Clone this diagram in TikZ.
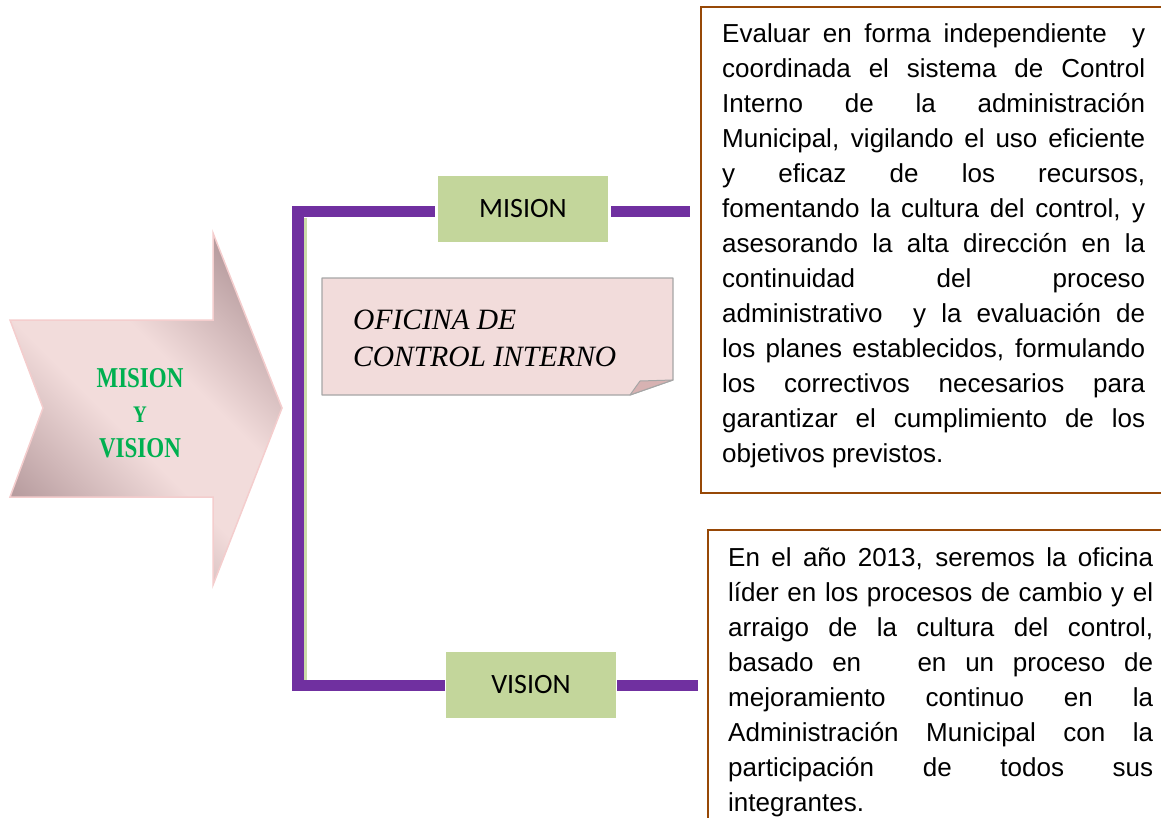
\documentclass[tikz,border=0pt]{standalone}
\usepackage{fontspec}
\usepackage{graphicx}
\setmainfont{Liberation Sans}
\newfontfamily\carl{Carlito}
\newfontfamily\lserif{Liberation Serif}
\definecolor{purp}{HTML}{7030A0}
\definecolor{boxgreen}{HTML}{C3D69B}
\definecolor{brownb}{HTML}{974806}
\definecolor{notefill}{HTML}{F2DCDB}
\definecolor{notefold}{HTML}{D7B2B2}
\definecolor{noteedge}{HTML}{A6A6A6}
\definecolor{adark}{HTML}{AE9295}
\definecolor{alight}{HTML}{F2DCDB}
\definecolor{aedge}{HTML}{F4CDCD}
\definecolor{titlegreen}{HTML}{00B050}
\definecolor{shadowgreen}{HTML}{CADBA8}
\pgfdeclarehorizontalshading{arrowsh}{100bp}{color(0bp)=(adark); color(22bp)=(adark); color(45bp)=(alight); color(58bp)=(alight); color(80bp)=(adark); color(100bp)=(adark)}
\tikzset{
  pline/.style={draw=purp, line width=11.5pt, line join=miter},
  greenbox/.style={fill=boxgreen, minimum width=170pt, minimum height=66pt, inner sep=0, font=\fontsize{28}{30}\carl\selectfont},
  frame/.style={draw=brownb, line width=2pt, anchor=north west, inner sep=0},
  desc/.style={anchor=base west, inner sep=0, align=justify, font=\fontsize{26}{35}\selectfont},
}
\begin{document}
\begin{tikzpicture}[x=1pt,y=-1pt]
\useasboundingbox (0,0) rectangle (1161,818);
% big arrow
\path[shading=arrowsh, shading angle=45, draw=aedge, line width=1.5pt]
  (10,320) -- (213,320) -- (213,233) -- (282,408) -- (213,585) -- (213,497) -- (10,497) -- (43,408) -- cycle;
\node (mv) [align=center, text=titlegreen, inner sep=0, font=\fontsize{23}{35}\lserif\bfseries\selectfont] at (140,413)
  {\scalebox{1}[1.25]{MISION}\\\scalebox{1}[1.25]{\fontsize{19}{35}\selectfont Y}\\\scalebox{1}[1.25]{VISION}};
% note
\path[fill=notefill, draw=noteedge, line width=1.2pt, line join=round]
  (322,278) -- (673,278) -- (673,380) -- (630,395) -- (322,395) -- cycle;
\path[fill=notefold, draw=noteedge, line width=1pt, line join=round]
  (630,395) -- (640,381) -- (673,380) -- cycle;
\node (oficina) [anchor=base west, align=left, inner sep=0, font=\fontsize{29.5}{37}\lserif\itshape\selectfont] at (353,366)
  {OFICINA DE\\CONTROL INTERNO};
% green boxes
\node (mision) [greenbox] at (523,209) {MISION};
\node (vision) [greenbox] at (531,685) {VISION};
% text frames
\node (mframe) [frame, minimum width=480pt, minimum height=486pt] at (700,6) {};
\node (vframe) [frame, minimum width=480pt, minimum height=320pt] at (707,529) {};
\node (mtext) [desc, text width=423pt] at (722,43) {Evaluar en forma independiente\ \ y\linebreak
coordinada el sistema de Control\linebreak
Interno de la administración\linebreak
Municipal, vigilando el uso eficiente\linebreak
y eficaz de los recursos,\linebreak
fomentando la cultura del control, y\linebreak
asesorando la alta dirección en la\linebreak
continuidad del proceso\linebreak
administrativo\ \ y la evaluación de\linebreak
los planes establecidos, formulando\linebreak
los correctivos necesarios para\linebreak
garantizar el cumplimiento de los\linebreak
objetivos previstos.};
\node (vtext) [desc, text width=425pt] at (728,566) {En el año 2013, seremos la oficina\linebreak
líder en los procesos de cambio y el\linebreak
arraigo de la cultura del control,\linebreak
basado en\ \ \ en un proceso de\linebreak
mejoramiento continuo en la\linebreak
Administración Municipal con la\linebreak
participación de todos sus\linebreak
integrantes.};
% connectors
\coordinate (tl) at (298,211.5);
\coordinate (bl) at (298,685.5);
\draw[shadowgreen, line width=2.5pt] (305.5,218) -- (305.5,679.5);
\draw[pline, shorten <=3pt, shorten >=1pt] (mision.west |- tl) -- (tl) -- (bl) -- (vision.west |- bl);
\draw[pline, shorten <=3pt, shorten >=10pt] (mision.east |- tl) -- (mframe.west |- tl);
\draw[pline, shorten <=1pt, shorten >=9pt] (vision.east |- bl) -- (vframe.west |- bl);
\end{tikzpicture}
\end{document}
